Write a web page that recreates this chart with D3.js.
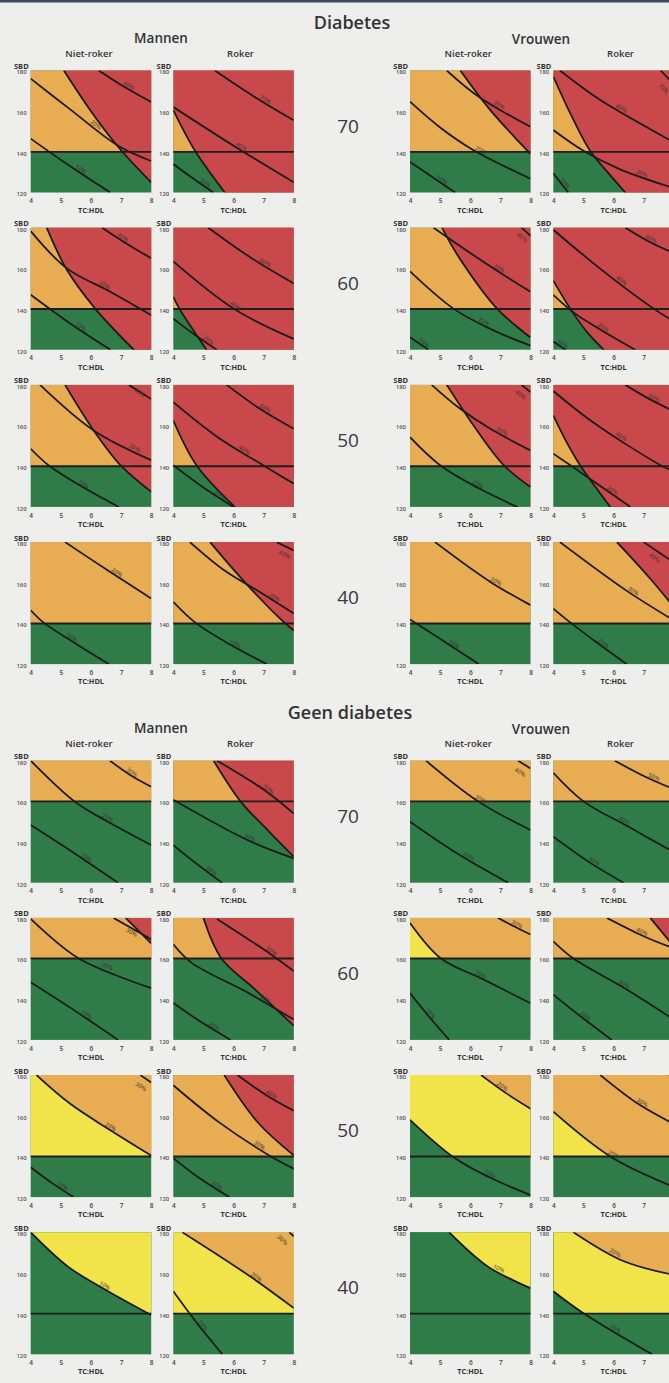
<!DOCTYPE html>
<html><head><meta charset="utf-8">
<script src="https://cdn.jsdelivr.net/npm/d3@7"></script>
<style>body{margin:0;background:#eeeeec;}svg{display:block;font-family:"Open Sans",sans-serif;}</style>
</head><body>
<script>
// ---------- data ----------
const ages = [70, 60, 50, 40];
const tcTicks = [4, 5, 6, 7, 8];
const sbdTicks = [120, 140, 160, 180];
const sectionTitles = ["Diabetes", "Geen diabetes"];
const sexTitles = ["Mannen", "Vrouwen"];
const smokeTitles = ["Niet-roker", "Roker"];

// each panel: age, smoker, h = SBD threshold line, above = colour above the line,
// lines = curves [TC:HDL, SBD]; fill = colour to the right of the curve;
// at = TC:HDL of the label on the curve, lab = explicit [TC:HDL, SBD] of the label
const diabetesMen = [
 {age:70,smoker:0,h:140,above:"O",lines:[
  {pts:[[5.1,180],[6.0,160],[6.9,142.5],[8,125]],fill:"R"},
  {pts:[[6.26,180],[7.1,172],[8,164.5]],label:"40%",at:7.2},
  {pts:[[4,176],[5.3,161],[6.9,143],[8,135.5]],label:"20%",at:6.1},
  {pts:[[4,146.5],[5.3,133],[6.64,120]],label:"10%",at:5.6}]},
 {age:70,smoker:1,h:140,above:"O",lines:[
  {pts:[[4,160.5],[4.72,140.5],[5.71,120]],fill:"R"},
  {pts:[[5.38,180],[6.7,167],[8,155.5]],label:"70%",at:7.0},
  {pts:[[4,162],[6,143],[8,125]],label:"40%",at:6.2},
  {pts:[[4,134],[4.6,127.5],[5.33,120]],label:"20%",at:5.0}]},
 {age:60,smoker:0,h:140,above:"O",lines:[
  {pts:[[4.53,180],[5.2,159.3],[6.14,140.2],[7.42,120]],fill:"R"},
  {pts:[[6.37,180],[7.2,172],[8,165]],label:"40%",at:7.0},
  {pts:[[4,178.3],[5.2,160],[6.64,148.5],[8,137]],label:"20%",at:6.4},
  {pts:[[4,147],[5.3,133],[6.64,120]],label:"10%",at:5.6}]},
 {age:60,smoker:1,h:140,above:"O",lines:[
  {pts:[[4,146],[4.2,140.2],[4.6,131],[5.1,120]],fill:"R"},
  {pts:[[5.16,180],[6.6,165],[8,152.6]],label:"60%",at:7.0},
  {pts:[[4,163.4],[6,140.2],[8,125.3]],label:"40%",at:6.0},
  {pts:[[4,135.3],[4.7,127.5],[5.44,120]],label:"20%",at:5.1}]},
 {age:50,smoker:0,h:140,above:"O",lines:[
  {pts:[[5.14,180],[6.09,157.6],[6.98,140.5],[8,127.4]],fill:"R"},
  {pts:[[7.26,180],[8,173]],label:"40%",lab:[7.55,175]},
  {pts:[[4.31,180],[6.09,157.6],[8,143]],label:"20%",at:7.4},
  {pts:[[4,148.6],[4.59,140.5],[5.7,130],[6.92,120]],label:"10%",at:5.7}]},
 {age:50,smoker:1,h:140,above:"O",lines:[
  {pts:[[4,162.5],[4.77,140.5],[6.04,120]],fill:"R"},
  {pts:[[5.77,180],[6.9,168],[8,158.4]],label:"60%",at:7.0},
  {pts:[[4,171.5],[5.5,154],[6.98,140.5],[8,131.4]],label:"40%",at:6.3},
  {pts:[[4,140.5],[5,129.5],[5.99,120]],label:"20%",at:5.5}]},
 {age:40,smoker:0,h:140,above:"O",lines:[
  {pts:[[5.14,180],[6.64,165.3],[8,152.3]],label:"20%",at:6.8},
  {pts:[[4,146.5],[4.42,140.5],[5.5,130],[6.59,120]],label:"10%",at:5.3}]},
 {age:40,smoker:1,h:140,above:"O",lines:[
  {pts:[[5.22,180],[6.0,166.5],[6.8,153.5],[7.5,143],[8,136.5]],fill:"R"},
  {pts:[[7.43,180],[8,175.9]],label:"40%",lab:[7.65,172.5]},
  {pts:[[4.55,180],[5.7,166],[6.87,155.5],[8,144.9]],label:"20%",at:7.3},
  {pts:[[4,150.6],[4.72,140.5],[5.9,129.5],[7.1,120]],label:"10%",at:6.0}]}
];

const diabetesWomen = [
 {age:70,smoker:0,h:140,above:"O",lines:[
  {pts:[[5.67,180],[6.61,161.5],[7.61,145],[8,139]],fill:"R"},
  {pts:[[5.22,180],[6.28,167.1],[8,152.3]],label:"30%",at:6.9},
  {pts:[[4,164.7],[5,152],[6.11,140.8],[8,126.8]],label:"20%",at:6.3},
  {pts:[[4,135],[4.7,128],[5.5,120]],label:"10%",at:5.0}]},
 {age:70,smoker:1,h:140,above:"O",lines:[
  {pts:[[4,177],[4.56,159],[5.22,140.5],[5.8,130],[6.39,120]],fill:"R"},
  {pts:[[7.56,180],[7.86,175.4],[8,173]],label:"70%",lab:[7.6,170]},
  {pts:[[4.22,180],[5.56,165.5],[7.86,145.8],[8,144.5]],label:"40%",at:6.2},
  {pts:[[4,150.7],[5,140.5],[6.2,131.5],[7.86,122.8]],label:"20%",at:6.9},
  {pts:[[4,129.4],[4.5,120]],label:"10%",at:4.3}]},
 {age:60,smoker:0,h:140,above:"O",lines:[
  {pts:[[5.06,180],[5.6,166],[6.89,140.2],[8,126]],fill:"R"},
  {pts:[[7.7,180],[8,176]],label:"40%",lab:[7.65,174]},
  {pts:[[4.78,180],[6.56,162],[8,148.5]],label:"30%",at:6.9},
  {pts:[[4,158.5],[5.44,140.2],[6.7,130],[8,122]],label:"20%",at:6.4},
  {pts:[[4,126.1],[4.61,120]],label:"10%",at:4.4}]},
 {age:60,smoker:1,h:140,above:"O",lines:[
  {pts:[[4,154],[4.56,140.2],[5.1,129],[5.67,120]],fill:"R"},
  {pts:[[6.39,180],[7.2,173],[8,167.5]],label:"60%",at:7.2},
  {pts:[[4,179],[5.5,160.5],[7.33,140.2],[8,134]],label:"40%",at:6.2},
  {pts:[[4,147],[4.7,138],[5.61,129.5],[6.72,120]],label:"20%",at:5.6},
  {pts:[[4,124],[4.4,120]],label:"10%",at:4.25}]},
 {age:50,smoker:0,h:140,above:"O",lines:[
  {pts:[[5.22,180],[6.11,160],[7.11,140.5],[8,129.8]],fill:"R"},
  {pts:[[7.7,180],[8,176.5]],label:"40%",lab:[7.6,174]},
  {pts:[[4.72,180],[5.6,169],[6.67,158.4],[8,147.8]],label:"30%",at:7.0},
  {pts:[[4,154.3],[5,140.5],[6.3,129],[7.56,120]],label:"20%",at:6.2}]},
 {age:50,smoker:1,h:140,above:"O",lines:[
  {pts:[[4,165],[4.4,153],[4.89,140.5],[5.89,120]],fill:"R"},
  {pts:[[6.39,180],[7.2,173],[8,167]],label:"60%",at:7.3},
  {pts:[[4,177],[5.33,161.5],[7.56,140.5],[8,137.5]],label:"40%",at:6.2},
  {pts:[[4,146.2],[5.2,134],[6.56,120]],label:"20%",at:5.9}]},
 {age:40,smoker:0,h:140,above:"O",lines:[
  {pts:[[4.83,180],[6.67,160.4],[8,149]],label:"20%",at:6.8},
  {pts:[[4,142],[5.2,130.5],[6.28,120]],label:"10%",at:5.4}]},
 {age:40,smoker:1,h:140,above:"O",lines:[
  {pts:[[6.11,180],[7.22,162],[8,148]],fill:"R"},
  {pts:[[7.0,180],[8,170]],label:"40%",lab:[7.3,171]},
  {pts:[[4.22,180],[6.44,156],[8,141.5]],label:"30%",at:6.6},
  {pts:[[4,147.3],[4.56,140.5],[5.5,130],[6.44,120]],label:"20%",at:5.6}]}
];

const geenMen = [
 {age:70,smoker:0,h:160,above:"O",lines:[
  {pts:[[6.63,180],[7.3,173],[8,167.2]],label:"30%",at:7.3},
  {pts:[[4,180],[5.45,160],[6.46,150.8],[8,138.5]],label:"20%",at:6.5},
  {pts:[[4,148.4],[5.3,136],[6.9,120]],label:"10%",at:5.8}]},
 {age:70,smoker:1,h:160,above:"O",lines:[
  {pts:[[5.34,180],[6.23,160],[7.13,145.9],[8,132.8]],fill:"R"},
  {pts:[[5.45,180],[7.02,165.6],[8,154]],label:"50%",at:7.1},
  {pts:[[4,160.8],[6.46,141],[8,132]],label:"30%",at:6.5},
  {pts:[[4,138.5],[4.8,129],[5.62,120]],label:"20%",at:5.2}]},
 {age:60,smoker:0,h:160,above:"O",lines:[
  {pts:[[7.15,180],[8,167.5]],fill:"R"},
  {pts:[[6.75,180],[8,169.5]],label:"30%",lab:[7.3,171.5]},
  {pts:[[4,179.5],[5.6,160],[8,145.5]],label:"20%",at:6.5},
  {pts:[[4,148.4],[5.3,136],[6.9,120]],label:"10%",at:5.8}]},
 {age:60,smoker:1,h:160,above:"O",lines:[
  {pts:[[5.0,180],[5.6,160],[6.7,145],[8,127]],fill:"R"},
  {pts:[[5.45,179.5],[7.13,163.2],[8,153.8]],label:"50%",at:7.2},
  {pts:[[4,167],[4.6,158],[6.5,143],[8,130]],label:"30%",at:7.0},
  {pts:[[4,138.2],[4.9,129],[5.9,120]],label:"20%",at:5.3}]},
 {age:50,smoker:0,h:140,above:"Y",lines:[
  {pts:[[4.19,180],[5.3,166],[6.58,153.5],[8,140.4]],fill:"O",scope:"above",label:"20%",at:6.6},
  {pts:[[7.64,180],[8,176.4]],label:"30%",lab:[7.6,173]},
  {pts:[[4,134.7],[4.7,127],[5.42,120]],label:"10%",at:5.0}]},
 {age:50,smoker:1,h:140,above:"O",lines:[
  {pts:[[5.69,180],[6.8,156.8],[8,140.5]],fill:"R"},
  {pts:[[6.13,180],[7.1,170],[8,162.5]],label:"40%",at:7.2},
  {pts:[[4,175],[5.5,157],[7.24,140],[8,134]],label:"30%",at:6.8},
  {pts:[[4,139.2],[4.9,129],[5.86,120]],label:"20%",at:5.4}]},
 {age:40,smoker:0,h:140,above:"G",lines:[
  {pts:[[4,180],[5.25,163],[6.45,152],[8,139.3]],fill:"Y",scope:"above",label:"10%",at:6.4}]},
 {age:40,smoker:1,h:140,above:"Y",lines:[
  {pts:[[4.3,180],[6.58,158],[8,142.7]],fill:"O",scope:"above",label:"20%",at:6.7},
  {pts:[[7.85,180],[8,178]],label:"30%",lab:[7.55,175]},
  {pts:[[4,151],[4.8,135],[5.63,120]],label:"10%",at:4.9}]}
];

const geenWomen = [
 {age:70,smoker:0,h:160,above:"O",lines:[
  {pts:[[7.59,180],[8,176.2]],label:"40%",lab:[7.6,173]},
  {pts:[[4.53,180],[6.26,160],[8,145.9]],label:"30%",at:6.3},
  {pts:[[4,150],[5.5,135],[7.26,120]],label:"20%",at:5.9}]},
 {age:70,smoker:1,h:160,above:"O",lines:[
  {pts:[[6.04,180],[7,172.5],[8,166]],label:"50%",at:7.3},
  {pts:[[4,174],[5,160],[6.5,147.5],[8,135]],label:"40%",at:6.3},
  {pts:[[4,142.6],[5.2,130],[6.33,120]],label:"30%",at:5.3}]},
 {age:60,smoker:0,h:160,above:"Y",lines:[
  {pts:[[4,177.5],[5.03,160],[6.4,150],[8,138]],fill:"O",scope:"above",label:"20%",at:6.3},
  {pts:[[6.92,180],[7.5,175.5],[8,171.8]],label:"30%",at:7.5},
  {pts:[[4,143],[4.6,132],[5.3,120]],label:"10%",at:4.6}]},
 {age:60,smoker:1,h:160,above:"O",lines:[
  {pts:[[7.22,180],[8,166]],fill:"R"},
  {pts:[[5.78,180],[7,171],[8,165]],label:"40%",at:6.9},
  {pts:[[4,168.5],[4.67,160],[6.3,146],[8,130]],label:"30%",at:6.3},
  {pts:[[4,142.3],[5,130.5],[5.94,120]],label:"20%",at:5.0}]},
 {age:50,smoker:0,h:140,above:"G",lines:[
  {pts:[[4,158],[5.41,140],[6.6,130],[8,121]],fill:"Y",scope:"above",label:"10%",at:6.6},
  {pts:[[6.36,180],[7.2,171],[8,163.5]],fill:"O",scope:"above",label:"20%",at:7.0}]},
 {age:50,smoker:1,h:140,above:"Y",lines:[
  {pts:[[4,162],[5.89,140],[8,125]],fill:"O",scope:"above",label:"20%",at:5.95},
  {pts:[[5.56,180],[6.8,166],[8,156]],label:"30%",at:6.9},
  {pts:[[7.85,180],[8,176]],fill:"R"}]},
 {age:40,smoker:0,h:140,above:"G",lines:[
  {pts:[[5.3,180],[6.6,163],[8,152.5]],fill:"Y",scope:"above",label:"10%",at:6.9}]},
 {age:40,smoker:1,h:140,above:"G",lines:[
  {pts:[[4,151],[5,140.2],[7.28,120]],fill:"Y",scope:"above",label:"10%",at:6.0},
  {pts:[[4.67,180],[6.3,166],[8,159]],fill:"O",scope:"above",label:"20%",at:6.0}]}
];

// ---------- style / layout ----------
const colors = {G:"#2f7c49", Y:"#f1e44b", O:"#e8ad52", R:"#c8484c"};
const W = 669, H = 1383;
const PW = 120.5, PH = 122;
const colX = [30.7, 173.3, 410, 553.3];
const sectionTop = [70.5, 760.7];
const rowStep = 157.2;
const ink = "#333";

const svg = d3.select("body").append("svg").attr("width", W).attr("height", H);
svg.append("rect").attr("width", W).attr("height", H).attr("fill", "#eeeeec");
svg.append("rect").attr("width", W).attr("height", 2.5).attr("fill", "#3d4b5c");

const x = d3.scaleLinear().domain([4, 8]).range([0, PW]);
const y = d3.scaleLinear().domain([120, 180]).range([PH, 0]);
const lineGen = d3.line().x(d => x(d[0])).y(d => y(d[1])).curve(d3.curveCatmullRom.alpha(0.5));

function keepInside(sel, px) {
  sel.each(function () {
    const b = this.getBBox();
    const over = px + b.x + b.width - (W - 1);
    if (over > 0) d3.select(this).attr("x", (+d3.select(this).attr("x") || 0) - over);
  });
}

let clipId = 0;
function drawPanel(px, py, p) {
  const g = svg.append("g").attr("transform", `translate(${px},${py})`);
  const idAll = "c" + (clipId++), idAbove = "c" + (clipId++);
  const defs = g.append("defs");
  defs.append("clipPath").attr("id", idAll).append("rect")
    .attr("width", PW).attr("height", PH);
  defs.append("clipPath").attr("id", idAbove).append("rect")
    .attr("width", PW).attr("height", y(p.h));
  // base colours
  g.append("rect").attr("width", PW).attr("height", PH).attr("fill", colors.G);
  g.append("rect").attr("width", PW).attr("height", y(p.h)).attr("fill", colors[p.above]);
  // zones to the right of curves
  p.lines.filter(l => l.fill).forEach(l => {
    const pts = l.pts, f = pts[0], la = pts[pts.length - 1];
    const d = lineGen(pts) +
      `L${x(la[0])},${y(-200)}L${x(40)},${y(-200)}L${x(40)},${y(400)}L${x(f[0])},${y(400)}Z`;
    g.append("path").attr("d", d).attr("fill", colors[l.fill])
      .attr("clip-path", `url(#${l.scope === "above" ? idAbove : idAll})`);
  });
  // threshold line
  g.append("line").attr("x1", 0).attr("x2", PW).attr("y1", y(p.h)).attr("y2", y(p.h))
    .attr("stroke", "#1e1e1e").attr("stroke-width", 1.9);
  // curves
  p.lines.forEach(l => {
    g.append("path").attr("d", lineGen(l.pts)).attr("fill", "none")
      .attr("stroke", "#1a1a1a").attr("stroke-width", 1.75)
      .attr("clip-path", `url(#${idAll})`);
  });
  // labels
  p.lines.filter(l => l.label).forEach(l => {
    const pts = l.pts;
    const tc = l.lab ? l.lab[0] : l.at;
    let i = 0;
    while (i < pts.length - 2 && tc > pts[i + 1][0]) i++;
    const a = pts[i], b = pts[i + 1];
    const t = (tc - a[0]) / (b[0] - a[0]);
    const s = l.lab ? l.lab[1] : a[1] + t * (b[1] - a[1]);
    const ang = Math.atan2(y(b[1]) - y(a[1]), x(b[0]) - x(a[0])) * 180 / Math.PI;
    let lx = x(tc);
    const maxX = W - 1 - px - 7;
    if (lx > maxX) lx = maxX;
    g.append("text").attr("transform", `translate(${lx},${y(s)}) rotate(${ang})`)
      .attr("dy", -1.2).attr("text-anchor", "middle")
      .attr("font-size", 6).attr("font-weight", 600)
      .attr("fill", "#3a3030").attr("opacity", 0.72).text(l.label);
  });
  // axes (ticks that fall outside the page are not shown, as in the original)
  const visTicks = tcTicks.filter(v => px + x(v) + 3 < W);
  const ax = g.append("g").attr("transform", `translate(0,${PH})`)
    .call(d3.axisBottom(x).tickValues(visTicks).tickSize(0).tickPadding(6).tickFormat(d3.format("d")));
  ax.select(".domain").remove();
  ax.selectAll("text").attr("font-size", 6.5).attr("font-weight", 600).attr("fill", "#444")
    .attr("font-family", "Open Sans, sans-serif");
  const ay = g.append("g").attr("transform", "translate(0,1.5)")
    .call(d3.axisLeft(y).tickValues(sbdTicks).tickSize(0).tickPadding(4));
  ay.select(".domain").remove();
  ay.selectAll("text").attr("font-size", 6).attr("font-weight", 600).attr("fill", "#555")
    .attr("font-family", "Open Sans, sans-serif");
  g.append("text").attr("x", -2).attr("y", -1.5).attr("text-anchor", "end")
    .attr("font-size", 7.5).attr("font-weight", 700).attr("fill", ink).text("SBD");
  g.append("text").attr("x", x(6)).attr("y", PH + 20).attr("text-anchor", "middle")
    .attr("font-size", 7.3).attr("font-weight", 700).attr("fill", ink).text("TC:HDL");
}

const sections = [[diabetesMen, diabetesWomen], [geenMen, geenWomen]];
sections.forEach((sec, si) => {
  const top = sectionTop[si];
  svg.append("text").attr("x", si === 0 ? 352 : 350).attr("y", top - 41.5)
    .attr("text-anchor", "middle").attr("font-size", 18).attr("font-weight", 600)
    .attr("fill", ink).text(sectionTitles[si]);
  [161, 541].forEach((cx, k) => {
    svg.append("text").attr("x", cx).attr("y", top - 28 + k)
      .attr("text-anchor", "middle").attr("font-size", 13.5).attr("font-weight", 600)
      .attr("fill", ink).text(sexTitles[k]);
  });
  colX.forEach((cx, c) => {
    const sm = c % 2;
    svg.append("text").attr("x", cx + PW / 2 + (sm ? 7 : -2)).attr("y", top - 13.5)
      .attr("text-anchor", "middle").attr("font-size", 9.5).attr("font-weight", 600)
      .attr("fill", ink).text(smokeTitles[sm]);
  });
  ages.forEach((age, r) => {
    svg.append("text").attr("x", 348).attr("y", top + r * rowStep + 62)
      .attr("text-anchor", "middle").attr("font-size", 19).attr("font-weight", 500)
      .attr("fill", "#3a3a3a").text(age);
  });
  sec.forEach((panels, sx) => {
    panels.forEach(p => {
      const r = ages.indexOf(p.age);
      drawPanel(colX[sx * 2 + p.smoker], top + r * rowStep, p);
    });
  });
});
</script>
</body></html>
